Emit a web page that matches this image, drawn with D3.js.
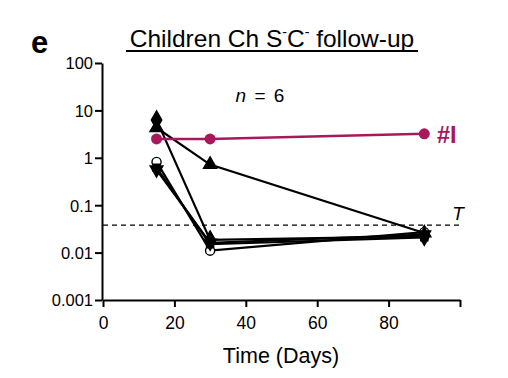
<!DOCTYPE html>
<html><head><meta charset="utf-8">
<script src="https://cdn.jsdelivr.net/npm/d3@7"></script>
<style>body{margin:0;background:#fff}text{font-family:"Liberation Sans",Arial,sans-serif}</style>
</head><body><svg id="c" width="508" height="378"></svg>
<script>
const days = [15, 30, 90];
const seriesNames = ["diamond", "triangle", "circle", "down", "square"];
const diamondVals = [6.3, 0.0185, 0.022];
const triangleVals = [4.3, 0.72, 0.026];
const circleVals = [0.82, 0.011, 0.027];
const downVals = [0.56, 0.016, 0.024];
const squareVals = [0.62, 0.015, 0.021];
const patientIVals = [2.5, 2.5, 3.2];
const threshold = 0.038;
const yTicks = [0.001, 0.01, 0.1, 1, 10, 100];
const yTickLabels = ["0.001", "0.01", "0.1", "1", "10", "100"];
const xTicks = [0, 20, 40, 60, 80, 100];
const xTickLabels = ["0", "20", "40", "60", "80", ""];

const svg = d3.select("#c");
const x = d3.scaleLinear().domain([0, 100]).range([103, 460]);
const y = d3.scaleLog().domain([0.001, 100]).range([300, 63]);
const magenta = "#a8185c";

// axes
const yAxis = d3.axisLeft(y).tickValues(yTicks).tickFormat((d, i) => yTickLabels[i]).tickSize(7).tickSizeOuter(0).tickPadding(2);
const gy = svg.append("g").attr("transform", `translate(${x(0) - 1},0)`).call(yAxis);
gy.select(".domain").attr("stroke-width", 2);
gy.selectAll(".tick line").attr("stroke-width", 2);
gy.selectAll(".tick text").attr("font-size", 16.5).attr("fill", "#000").attr("dy", "0.36em");

const xAxis = d3.axisBottom(x).tickValues(xTicks).tickFormat((d, i) => xTickLabels[i]).tickSize(7).tickSizeOuter(0).tickPadding(0);
const gx = svg.append("g").attr("transform", `translate(0,${y(0.001)})`).call(xAxis);
gx.select(".domain").attr("stroke-width", 2);
gx.selectAll(".tick line").attr("stroke-width", 2);
gx.selectAll(".tick text").attr("font-size", 17.5).attr("fill", "#000").attr("dy", null).attr("y", 29);

// threshold
svg.append("line").attr("x1", x(0)).attr("x2", x(100)).attr("y1", y(threshold)).attr("y2", y(threshold))
  .attr("stroke", "#000").attr("stroke-width", 1.2).attr("stroke-dasharray", "5,4");
svg.append("text").attr("x", 458).attr("y", 220).attr("font-size", 19).attr("font-style", "italic").attr("text-anchor", "middle").text("T");

const line = d3.line().x((d, i) => x(days[i])).y(d => y(d));
const allBlack = [diamondVals, triangleVals, circleVals, downVals, squareVals];
const symbols = [
  {t: d3.symbolDiamond, s: 95, rot: 0, fill: "#000"},
  {t: d3.symbolTriangle, s: 75, rot: 0, fill: "#000"},
  {t: d3.symbolCircle, s: 65, rot: 0, fill: "#fff"},
  {t: d3.symbolTriangle, s: 70, rot: 180, fill: "#000"},
  {t: d3.symbolSquare, s: 50, rot: 0, fill: "#000"}
];
allBlack.forEach(vals => {
  svg.append("path").attr("d", line(vals)).attr("fill", "none").attr("stroke", "#000").attr("stroke-width", 2.2);
});
[1, 2, 3, 4, 0].forEach(si => {
  const vals = allBlack[si];
  const sy = symbols[si];
  svg.append("g").selectAll("path").data(vals).join("path")
    .attr("d", d3.symbol().type(sy.t).size(sy.s))
    .attr("transform", (d, i) => `translate(${x(days[i])},${y(d)}) rotate(${sy.rot})`)
    .attr("fill", sy.fill).attr("stroke", "#000").attr("stroke-width", 1.4);
});

svg.append("path").attr("d", line(patientIVals)).attr("fill", "none").attr("stroke", magenta).attr("stroke-width", 2.5);
svg.append("g").selectAll("circle").data(patientIVals).join("circle")
  .attr("cx", (d, i) => x(days[i])).attr("cy", d => y(d)).attr("r", 5.5).attr("fill", magenta);
svg.append("text").attr("x", 437).attr("y", 143).attr("font-size", 23.5).attr("font-weight", "bold").attr("fill", magenta).text("#I");

// n = 6
const nt = svg.append("text").attr("x", 260).attr("y", 102).attr("font-size", 19).attr("text-anchor", "middle").attr("word-spacing", 3);
nt.append("tspan").attr("font-style", "italic").text("n");
nt.append("tspan").text(" = 6");

// title
const tt = svg.append("text").attr("x", 272).attr("y", 46.5).attr("font-size", 24.5).attr("text-anchor", "middle");
tt.append("tspan").text("Children Ch S");
tt.append("tspan").attr("font-size", 14).attr("dy", -10).text("-");
tt.append("tspan").attr("dy", 10).text("C");
tt.append("tspan").attr("font-size", 14).attr("dy", -10).text("-");
tt.append("tspan").attr("dy", 10).text(" follow-up");
svg.append("line").attr("x1", 126).attr("x2", 418).attr("y1", 51).attr("y2", 51).attr("stroke", "#000").attr("stroke-width", 1.8);

svg.append("text").attr("x", 31).attr("y", 53).attr("font-size", 31).attr("font-weight", "bold").text("e");

svg.append("text").attr("x", 281).attr("y", 363).attr("font-size", 21.5).attr("text-anchor", "middle").text("Time (Days)");
</script></body></html>
